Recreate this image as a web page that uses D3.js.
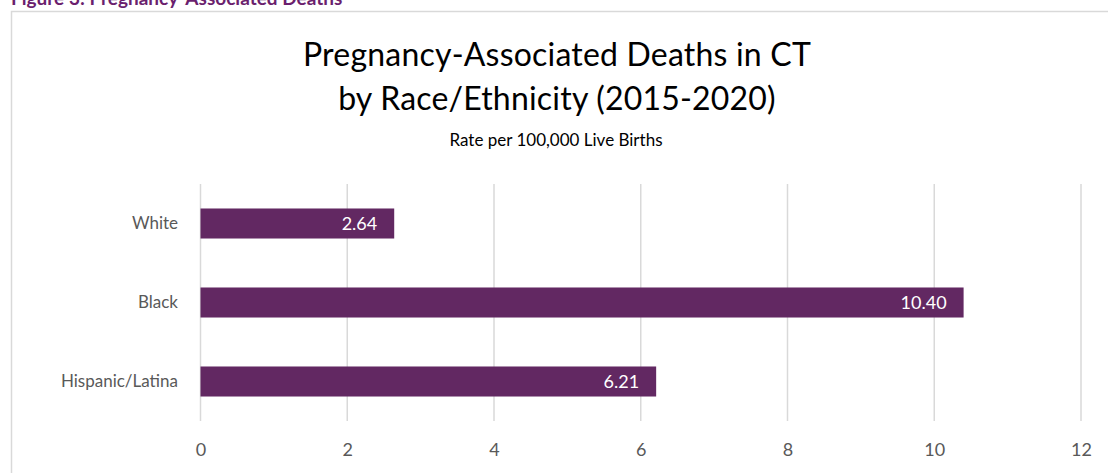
<!DOCTYPE html>
<html>
<head>
<meta charset="utf-8">
<script src="https://cdn.jsdelivr.net/npm/d3@7"></script>
<style>
  html, body { margin: 0; padding: 0; background: #fff; }
  svg { display: block; }
  text { font-family: Lato, "Open Sans", sans-serif; }
</style>
</head>
<body>
<svg id="chart" width="1108" height="473"></svg>
<script>
// Pregnancy-associated death rates per 100,000 live births, CT 2015-2020
const categories = ["White", "Black", "Hispanic/Latina"];
const rates = [2.64, 10.40, 6.21];
const rateLabels = ["2.64", "10.40", "6.21"];
const xTicks = [0, 2, 4, 6, 8, 10, 12];

const W = 1108, H = 473;
const svg = d3.select("#chart");

const purple = "#622862";
const grid = "#d9d9d9";
const grayText = "#595959";

// Figure caption, partly above the page top
svg.append("text")
  .attr("x", 11).attr("y", 5)
  .attr("fill", "#6b1f6e")
  .attr("font-weight", 700)
  .attr("font-size", 19)
  .text("Figure 3: Pregnancy-Associated Deaths");

// Chart frame (top and left edges visible)
svg.append("path")
  .attr("d", `M11.5,${H} L11.5,11.5 L${W},11.5`)
  .attr("fill", "none")
  .attr("stroke", grid)
  .attr("stroke-width", 1.5);

// Titles
svg.append("text")
  .attr("x", 557).attr("y", 66)
  .attr("text-anchor", "middle")
  .attr("font-size", 32)
  .attr("letter-spacing", 0.2)
  .attr("fill", "#000")
  .text("Pregnancy-Associated Deaths in CT");
svg.append("text")
  .attr("x", 557).attr("y", 110)
  .attr("text-anchor", "middle")
  .attr("font-size", 32)
  .attr("letter-spacing", 0.2)
  .attr("fill", "#000")
  .text("by Race/Ethnicity (2015-2020)");
svg.append("text")
  .attr("x", 556).attr("y", 146)
  .attr("text-anchor", "middle")
  .attr("font-size", 17)
  .attr("fill", "#000")
  .text("Rate per 100,000 Live Births");

// Scales
const x = d3.scaleLinear().domain([0, 12]).range([200.5, 1081]);
const y = d3.scaleBand().domain(categories).range([184, 421]).paddingInner(0.62).paddingOuter(0.31);

// Vertical gridlines
svg.append("g")
  .selectAll("line")
  .data(xTicks)
  .join("line")
  .attr("x1", d => x(d)).attr("x2", d => x(d))
  .attr("y1", 184).attr("y2", 421)
  .attr("stroke", grid)
  .attr("stroke-width", 1.5);

// X axis tick labels
const xAxis = d3.axisBottom(x).tickValues(xTicks).tickSize(0).tickPadding(0).tickFormat(d3.format("d"));
const gx = svg.append("g").attr("transform", "translate(0,443)").call(xAxis);
gx.select(".domain").remove();
gx.selectAll("text")
  .attr("font-family", "Lato, 'Open Sans', sans-serif")
  .attr("font-size", 18)
  .attr("fill", grayText);

// Y axis category labels
const yAxis = d3.axisLeft(y).tickSize(0).tickPadding(0);
const gy = svg.append("g").attr("transform", "translate(178,0)").call(yAxis);
gy.select(".domain").remove();
gy.selectAll("text")
  .attr("font-family", "Lato, 'Open Sans', sans-serif")
  .attr("font-size", 17)
  .attr("fill", grayText);

// Bars
const rows = categories.map((c, i) => ({ c, v: rates[i], label: rateLabels[i] }));
svg.append("g")
  .selectAll("rect")
  .data(rows)
  .join("rect")
  .attr("x", x(0))
  .attr("y", d => y(d.c))
  .attr("width", d => x(d.v) - x(0))
  .attr("height", y.bandwidth())
  .attr("fill", purple);

// Value labels inside bar ends
svg.append("g")
  .selectAll("text")
  .data(rows)
  .join("text")
  .attr("x", d => x(d.v) - 17)
  .attr("y", d => y(d.c) + y.bandwidth() / 2)
  .attr("dy", "0.35em")
  .attr("text-anchor", "end")
  .attr("font-size", 18)
  .attr("fill", "#fff")
  .text(d => d.label);
</script>
</body>
</html>
